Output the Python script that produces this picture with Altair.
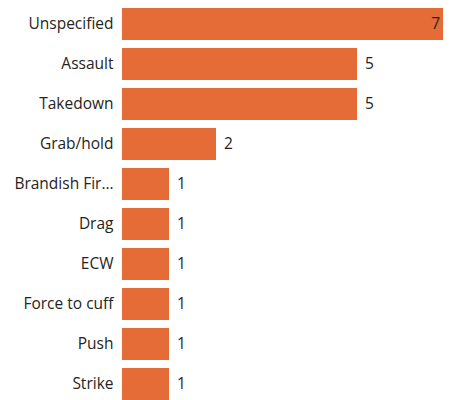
import altair as alt
import pandas as pd

categories = ["Unspecified", "Assault", "Takedown", "Grab/hold", "Brandish Firearm",
              "Drag", "ECW", "Force to cuff", "Push", "Strike"]
counts = [7, 5, 5, 2, 1, 1, 1, 1, 1, 1]

df = pd.DataFrame({"category": categories, "count": counts})

FONT = "Open Sans"
BAR = "#E66C37"
TXT = "#252423"
W = 321
H = 392

y = alt.Y("category:N", sort=categories, title=None,
          scale=alt.Scale(paddingInner=0.2, paddingOuter=0),
          axis=alt.Axis(domain=False, ticks=False, grid=False, labelFont=FONT,
                        labelFontSize=15.5, labelColor=TXT, labelPadding=9,
                        labelLimit=100))
x = alt.X("count:Q", title=None,
          scale=alt.Scale(domain=[0, 6.83], nice=False, clamp=False),
          axis=None)

base = alt.Chart(df).transform_joinaggregate(maxc="max(count)")

bars = base.mark_bar(color=BAR).encode(x=x, y=y)

outside = base.transform_filter("datum.count < datum.maxc").mark_text(
    align="left", baseline="middle", dx=8, font=FONT, fontSize=15.5, color=TXT
).encode(x=x, y=y, text="count:Q")

inside = base.transform_filter("datum.count >= datum.maxc").mark_text(
    align="right", baseline="middle", dx=-3, font=FONT, fontSize=15.5, color=TXT
).encode(x=alt.value(W), y=y, text="count:Q")

chart = (bars + outside + inside).properties(
    width=W, height=H,
    autosize=alt.AutoSizeParams(type="none"),
    padding={"left": 114, "top": 0, "right": 0, "bottom": 0},
).configure_view(stroke=None)

chart.save("out.html", embed_options={"renderer": "svg", "actions": False})
